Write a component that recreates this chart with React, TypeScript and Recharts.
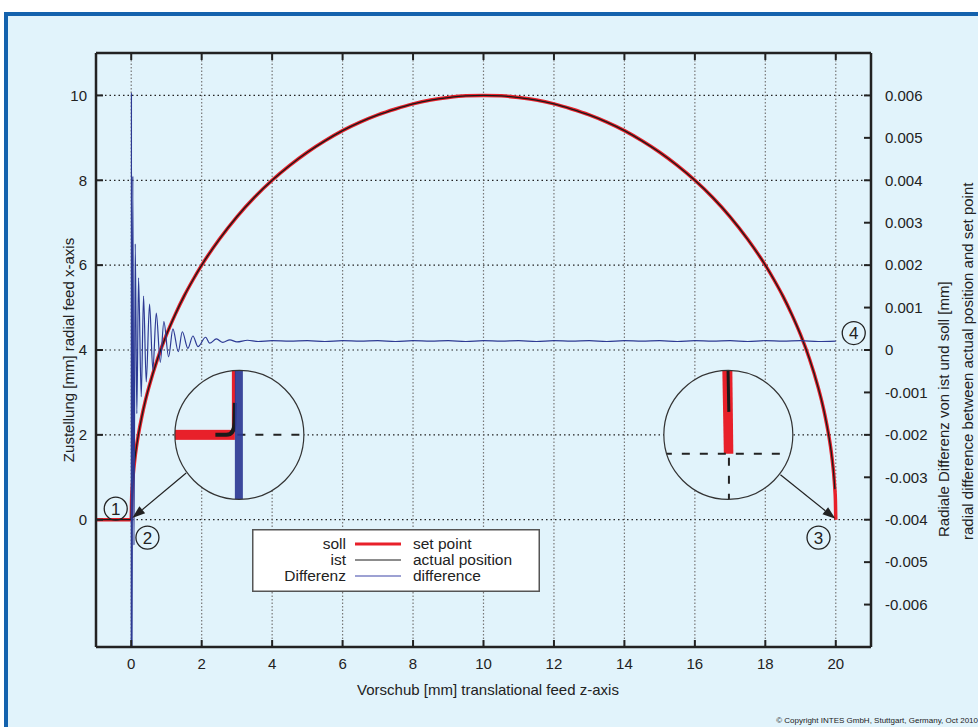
import React from "react";
import {
  LineChart, Line, XAxis, YAxis, CartesianGrid, ReferenceDot, ReferenceLine, Legend,
} from "recharts";

const FONT = '"Liberation Sans", Arial, Helvetica, sans-serif';
const BG = "#e1f3fb";
const FRAME = "#1462ad";
const RED = "#e8202a";
const BLUE = "#2d3a94";
const INK = "#222";

// tick labels
const xTicks = [0, 2, 4, 6, 8, 10, 12, 14, 16, 18, 20];
const leftTicks = [0, 2, 4, 6, 8, 10];
const rightTicks = [
  -0.006, -0.005, -0.004, -0.003, -0.002, -0.001, 0, 0.001, 0.002, 0.003, 0.004, 0.005, 0.006,
];

// soll: set point [z, x]
const soll: [number, number][] = [
  [-1, 0], [0, 0], [0.01, 0.45], [0.03, 0.77], [0.06, 1.09], [0.1, 1.41], [0.15, 1.73],
  [0.2, 1.99], [0.3, 2.43], [0.4, 2.8], [0.5, 3.12], [0.75, 3.8], [1, 4.36], [1.25, 4.84],
  [1.5, 5.27], [1.75, 5.65], [2, 6.0], [2.5, 6.61], [3, 7.14], [3.5, 7.6], [4, 8.0],
  [4.5, 8.35], [5, 8.66], [5.5, 8.93], [6, 9.17], [6.5, 9.37], [7, 9.54], [7.5, 9.68],
  [8, 9.8], [8.5, 9.89], [9, 9.95], [9.5, 9.99], [10, 10], [10.5, 9.99], [11, 9.95],
  [11.5, 9.89], [12, 9.8], [12.5, 9.68], [13, 9.54], [13.5, 9.37], [14, 9.17], [14.5, 8.93],
  [15, 8.66], [15.5, 8.35], [16, 8.0], [16.5, 7.6], [17, 7.14], [17.5, 6.61], [18, 6.0],
  [18.25, 5.65], [18.5, 5.27], [18.75, 4.84], [19, 4.36], [19.25, 3.8], [19.5, 3.12],
  [19.6, 2.8], [19.7, 2.43], [19.8, 1.99], [19.85, 1.73], [19.9, 1.41], [19.94, 1.09],
  [19.97, 0.77], [19.99, 0.45], [20, 0],
];

// ist: actual position [z, x]
const ist: [number, number][] = [
  [-1, 0], [-0.01, 0], [0, 0.1],
  ...soll.slice(2, -3),
  [19.975, 0.72],
];

// Differenz: radial difference [z, mm]
const diff: [number, number][] = [
  [0, -0.0085], [0.006, 0.00605], [0.024, -0.008], [0.045, 0.0041], [0.078, -0.0046],
  [0.114, 0.0025], [0.159, -0.0015], [0.208, 0.0017], [0.284, -0.0011], [0.35, 0.00127],
  [0.426, -0.00075], [0.52, 0.00108], [0.614, -0.00047], [0.711, 0.00087], [0.825, -0.00029],
  [0.927, 0.00067], [1.061, -0.00016], [1.183, 0.0005], [1.336, -0.00004], [1.45, 0.00043],
  [1.609, 0.00004], [1.751, 0.00033], [1.894, 0.00008], [2.113, 0.0003], [2.226, 0.00016],
  [2.42, 0.00026], [2.6, 0.00018], [2.8, 0.00024], [3.0, 0.00019], [3.3, 0.00023],
  [3.6, 0.0002], [4.0, 0.00022], [4.5, 0.00021], [5, 0.00022], [5.5, 0.0002], [6, 0.00022],
  [6.5, 0.00021], [7, 0.00022], [7.5, 0.0002], [8, 0.00022], [8.5, 0.00021], [9, 0.00022],
  [9.5, 0.0002], [10, 0.00022], [10.5, 0.00021], [11, 0.00022], [11.5, 0.0002], [12, 0.00022],
  [12.5, 0.00021], [13, 0.00022], [13.5, 0.0002], [14, 0.00022], [14.5, 0.00021], [15, 0.00022],
  [15.5, 0.0002], [16, 0.00022], [16.5, 0.00021], [17, 0.00022], [17.5, 0.0002], [18, 0.00022],
  [18.5, 0.00021], [19, 0.00022], [19.5, 0.0002], [20, 0.00021],
];

const legendLeft = ["soll", "ist", "Differenz"];
const legendRight = ["set point", "actual position", "difference"];

const toPts = (a: [number, number][]) => a.map(([x, y]) => ({ x, y }));

const fmtRight = (v: number) => (v === 0 ? "0" : v.toFixed(3));

const axisLine = { stroke: INK, strokeWidth: 2.5 };
const tickLine = { stroke: INK, strokeWidth: 2 };
const tickStyle = { fill: INK, fontSize: 15, fontFamily: FONT };

function Numbered(n: string) {
  return (p: any) => (
    <g>
      <circle cx={p.cx} cy={p.cy} r={11.5} fill="none" stroke={INK} strokeWidth={1.3} />
      <text x={p.cx} y={p.cy + 6} textAnchor="middle" fontSize={17} fontFamily={FONT} fill={INK}>
        {n}
      </text>
    </g>
  );
}

const R = 64.5;

function InsetStart(p: any) {
  const { cx, cy } = p;
  return (
    <g>
      <defs>
        <clipPath id="insetA">
          <circle cx={cx} cy={cy} r={R} />
        </clipPath>
      </defs>
      <circle cx={cx} cy={cy} r={R} fill={BG} />
      <g clipPath="url(#insetA)">
        <rect x={cx - R} y={cy - 5} width={R - 4.5} height={10} fill={RED} />
        <rect x={cx - 7.5} y={cy - R} width={4} height={R - 3} fill={RED} />
        <path
          d={`M${cx - 24},${cy} L${cx - 13},${cy} Q${cx - 5},${cy} ${cx - 5},${cy - 12} L${cx - 4.5},${cy - 32}`}
          stroke="#1a1a1a" strokeWidth={4} fill="none"
        />
        <line x1={cx - 2} y1={cy} x2={cx + R} y2={cy} stroke={INK} strokeWidth={2} strokeDasharray="8 10" />
        <rect x={cx - 4.5} y={cy - R} width={8} height={2 * R} fill={BLUE} fillOpacity={0.92} />
      </g>
      <circle cx={cx} cy={cy} r={R} fill="none" stroke="#333" strokeWidth={1.2} />
    </g>
  );
}

function InsetEnd(p: any) {
  const { cx, cy } = p;
  return (
    <g>
      <defs>
        <clipPath id="insetB">
          <circle cx={cx} cy={cy} r={R} />
        </clipPath>
      </defs>
      <circle cx={cx} cy={cy} r={R} fill={BG} />
      <g clipPath="url(#insetB)">
        <polygon
          points={`${cx - 6},${cy - R} ${cx + 4},${cy - R} ${cx + 5},${cy + 19} ${cx - 4.5},${cy + 19}`}
          fill={RED}
        />
        <line x1={cx - 0.3} y1={cy - R} x2={cx + 0.5} y2={cy - 23} stroke="#1a1a1a" strokeWidth={3} />
        <line x1={cx - R} y1={cy + 19} x2={cx + R} y2={cy + 19} stroke={INK} strokeWidth={2} strokeDasharray="8 10" />
        <line x1={cx + 0.6} y1={cy + 23} x2={cx + 0.6} y2={cy + R} stroke={INK} strokeWidth={2} strokeDasharray="8 10" />
      </g>
      <circle cx={cx} cy={cy} r={R} fill="none" stroke="#333" strokeWidth={1.2} />
    </g>
  );
}

function Arrow(p: any) {
  const { x1, y1, x2, y2 } = p;
  const a = Math.atan2(y2 - y1, x2 - x1);
  const L = 13;
  const W = 4.5;
  const bx = x2 - L * Math.cos(a);
  const by = y2 - L * Math.sin(a);
  const nx = -Math.sin(a) * W;
  const ny = Math.cos(a) * W;
  return (
    <g>
      <line x1={x1} y1={y1} x2={bx} y2={by} stroke={INK} strokeWidth={1.2} />
      <polygon points={`${x2},${y2} ${bx + nx},${by + ny} ${bx - nx},${by - ny}`} fill={INK} />
    </g>
  );
}

function LegendBox() {
  return (
    <svg width={288} height={63} style={{ display: "block" }}>
      <rect x={0.75} y={0.75} width={286.5} height={61.5} fill="#fff" stroke="#555" strokeWidth={1.5} />
      {legendLeft.map((t, i) => (
        <text key={t} x={94} y={20 + i * 16} textAnchor="end" fontSize={15.5} fontFamily={FONT} fill={INK}>
          {t}
        </text>
      ))}
      <line x1={103} y1={15} x2={149} y2={15} stroke={RED} strokeWidth={3} />
      <line x1={103} y1={31} x2={149} y2={31} stroke="#1a1a1a" strokeWidth={1} />
      <line x1={103} y1={47} x2={149} y2={47} stroke="#7d82c4" strokeWidth={1.3} />
      {legendRight.map((t, i) => (
        <text key={t} x={161} y={20 + i * 16} fontSize={15.5} fontFamily={FONT} fill={INK}>
          {t}
        </text>
      ))}
    </svg>
  );
}

export default function App() {
  return (
    <div
      style={{
        position: "absolute", left: 0, top: 0, width: 978, height: 727,
        overflow: "hidden", background: "#fff", fontFamily: FONT,
      }}
    >
      <div
        style={{
          position: "absolute", left: 4, top: 12, width: 1000, height: 1000,
          border: `4px solid ${FRAME}`, background: BG,
        }}
      />
      <div style={{ position: "absolute", left: 0, top: 0 }}>
        <LineChart width={978} height={727} margin={{ top: 52, right: 0, bottom: 20, left: 0 }}>
          <CartesianGrid
            xAxisId="bottom" yAxisId="left" vertical={false}
            stroke="#222" strokeDasharray="1.5 3" strokeWidth={1.2}
          />
          <CartesianGrid
            xAxisId="bottom" yAxisId="left" horizontal={false}
            stroke="#777" strokeDasharray="1.5 2" strokeWidth={1.2}
          />
          <XAxis
            xAxisId="bottom" type="number" dataKey="x" domain={[-1, 21]} ticks={xTicks}
            allowDataOverflow interval={0} height={60} tickSize={-7} tickMargin={18}
            axisLine={axisLine} tickLine={tickLine} tick={tickStyle}
          />
          <XAxis
            xAxisId="top" orientation="top" type="number" dataKey="x" domain={[-1, 21]} ticks={xTicks}
            allowDataOverflow interval={0} height={1} tickSize={-7} tickFormatter={() => ""}
            axisLine={axisLine} tickLine={tickLine} tick={tickStyle}
          />
          <YAxis
            yAxisId="left" type="number" domain={[-3, 11]} ticks={leftTicks}
            allowDataOverflow interval={0} width={96} tickSize={-7} tickMargin={16}
            axisLine={axisLine} tickLine={tickLine} tick={tickStyle}
          />
          <YAxis
            yAxisId="right" orientation="right" type="number" domain={[-0.007, 0.007]} ticks={rightTicks}
            allowDataOverflow interval={0} width={107} tickSize={-7} tickMargin={21}
            tickFormatter={fmtRight}
            axisLine={axisLine} tickLine={tickLine} tick={tickStyle}
          />
          <Line
            xAxisId="bottom" yAxisId="left" data={toPts(soll)} dataKey="y" type="monotone"
            stroke={RED} strokeWidth={3.5} dot={false} isAnimationActive={false} name="soll"
          />
          <Line
            xAxisId="bottom" yAxisId="left" data={toPts(ist)} dataKey="y" type="monotone"
            stroke="#1a1a1a" strokeWidth={1.3} dot={false} isAnimationActive={false} name="ist"
          />
          <Line
            xAxisId="bottom" yAxisId="right" data={toPts(diff)} dataKey="y" type="monotone"
            stroke={BLUE} strokeWidth={1.2} dot={false} isAnimationActive={false} name="Differenz"
          />
          <ReferenceDot xAxisId="bottom" yAxisId="left" x={3.07} y={2} r={R} ifOverflow="visible" shape={InsetStart} />
          <ReferenceDot xAxisId="bottom" yAxisId="left" x={16.95} y={2} r={R} ifOverflow="visible" shape={InsetEnd} />
          <ReferenceLine
            xAxisId="bottom" yAxisId="left" ifOverflow="visible"
            segment={[{ x: 1.56, y: 1.1 }, { x: 0.03, y: 0.04 }]} shape={Arrow}
          />
          <ReferenceLine
            xAxisId="bottom" yAxisId="left" ifOverflow="visible"
            segment={[{ x: 18.43, y: 1.06 }, { x: 19.99, y: 0.02 }]} shape={Arrow}
          />
          <ReferenceDot xAxisId="bottom" yAxisId="left" x={-0.44} y={0.26} r={11} ifOverflow="visible" shape={Numbered("1")} />
          <ReferenceDot xAxisId="bottom" yAxisId="left" x={0.46} y={-0.42} r={11} ifOverflow="visible" shape={Numbered("2")} />
          <ReferenceDot xAxisId="bottom" yAxisId="left" x={19.51} y={-0.42} r={11} ifOverflow="visible" shape={Numbered("3")} />
          <ReferenceDot xAxisId="bottom" yAxisId="left" x={20.51} y={4.4} r={11} ifOverflow="visible" shape={Numbered("4")} />
          <Legend
            layout="horizontal" verticalAlign="middle" align="center" content={LegendBox}
            wrapperStyle={{ left: 252, top: 529, width: 288, height: 63 }}
          />
        </LineChart>
      </div>
      <svg
        width={978} height={727}
        style={{ position: "absolute", left: 0, top: 0, pointerEvents: "none" }}
      >
        <text x={488} y={695} textAnchor="middle" fontSize={15} fontFamily={FONT} fill={INK}>
          Vorschub [mm] translational feed z-axis
        </text>
        <text
          x={68} y={350} textAnchor="middle" dominantBaseline="central" fontSize={15}
          fontFamily={FONT} fill={INK} transform="rotate(-90 68 350)"
        >
          Zustellung [mm] radial feed x-axis
        </text>
        <text
          x={943} y={537} dominantBaseline="central" fontSize={15} fontFamily={FONT} fill={INK}
          transform="rotate(-90 943 537)"
        >
          Radiale Differenz von ist und soll [mm]
        </text>
        <text
          x={967} y={540} dominantBaseline="central" fontSize={15} fontFamily={FONT} fill={INK}
          transform="rotate(-90 967 540)"
        >
          radial difference between actual position and set point
        </text>
        <text x={978} y={723} textAnchor="end" fontSize={8} fontFamily={FONT} fill={INK}>
          © Copyright INTES GmbH, Stuttgart, Germany, Oct 2010
        </text>
      </svg>
    </div>
  );
}
